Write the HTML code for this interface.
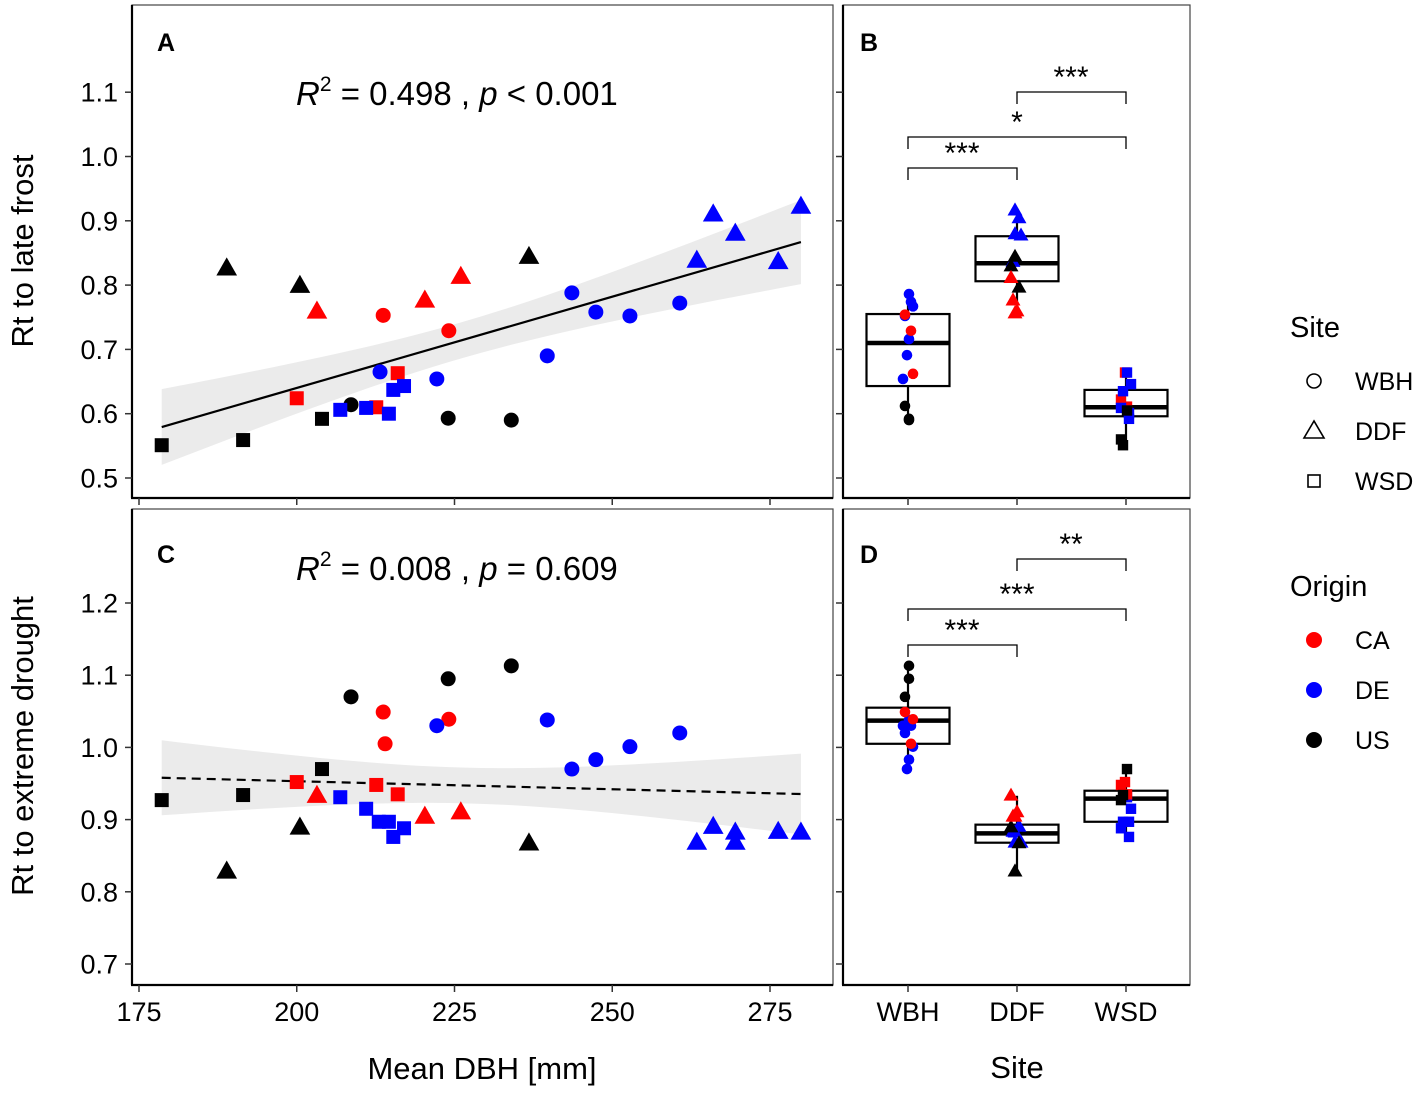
<!DOCTYPE html>
<html><head><meta charset="utf-8"><style>
body{margin:0;background:#fff;}
svg text{font-family:"Liberation Sans",Arial,sans-serif;}
</style></head><body>
<svg id="s" width="1417" height="1091" viewBox="0 0 1417 1091" xmlns="http://www.w3.org/2000/svg"></svg>
<script>
// ---- Panel A data (Rt to late frost vs DBH) ----
const aBlackSqX=[178.6,191.5,204.0], aBlackSqY=[0.551,0.559,0.592];
const aBlackTriX=[188.9,200.5,236.8], aBlackTriY=[0.827,0.800,0.845];
const aBlackCirX=[208.6,224.0,234.0], aBlackCirY=[0.614,0.593,0.590];
const aRedSqX=[200.0,212.6,216.0], aRedSqY=[0.624,0.610,0.663];
const aRedTriX=[203.2,220.3,226.0], aRedTriY=[0.760,0.777,0.814];
const aRedCirX=[213.7,224.1], aRedCirY=[0.753,0.729];
const aBlueSqX=[206.9,211.0,214.6,215.3,217.0], aBlueSqY=[0.606,0.609,0.600,0.637,0.643];
const aBlueCirX=[213.2,222.2,239.7,243.6,247.4,252.8,260.7], aBlueCirY=[0.665,0.654,0.690,0.788,0.758,0.752,0.772];
const aBlueTriX=[263.4,266.0,269.5,276.3,279.9], aBlueTriY=[0.839,0.911,0.881,0.837,0.923];
// ---- Panel C data (Rt to extreme drought vs DBH) ----
const cBlackSqX=[178.6,191.5,204.0], cBlackSqY=[0.927,0.934,0.970];
const cBlackTriX=[188.9,200.5,236.8], cBlackTriY=[0.829,0.890,0.868];
const cBlackCirX=[208.6,224.0,234.0], cBlackCirY=[1.070,1.095,1.113];
const cRedSqX=[200.0,212.6,216.0], cRedSqY=[0.952,0.948,0.935];
const cRedTriX=[203.2,220.3,226.0], cRedTriY=[0.934,0.905,0.911];
const cRedCirX=[213.7,214.0,224.1], cRedCirY=[1.049,1.005,1.039];
const cBlueSqX=[206.9,211.0,213.0,214.6,215.3,217.0], cBlueSqY=[0.931,0.915,0.897,0.897,0.876,0.888];
const cBlueCirX=[222.2,239.7,243.6,247.4,252.8,260.7], cBlueCirY=[1.030,1.038,0.970,0.983,1.001,1.020];
const cBlueTriX=[263.4,266.0,269.5,269.5,276.3,279.9], cBlueTriY=[0.869,0.891,0.883,0.869,0.884,0.883];
// ---- Box data: [lowerWhisker,q1,median,q3,upperWhisker] ----
const sites=["WBH","DDF","WSD"];
const bBoxes=[[0.590,0.643,0.710,0.755,0.789],[0.760,0.806,0.834,0.876,0.918],[0.551,0.596,0.610,0.637,0.665]];
const dBoxes=[[0.969,1.005,1.037,1.055,1.113],[0.830,0.868,0.881,0.893,0.933],[0.875,0.897,0.929,0.940,0.970]];
// jitter points: site index, value, color
const bPtsSite=[0,0,0,0,0,0,0,0,0,0,0,0,0, 1,1,1,1,1,1,1,1,1,1,1,1, 2,2,2,2,2,2,2,2,2,2,2,2];
const bPtsVal=[0.786,0.774,0.752,0.767,0.716,0.691,0.654,0.754,0.729,0.662,0.612,0.592,0.590, 0.917,0.905,0.880,0.878,0.837,0.845,0.830,0.797,0.812,0.777,0.760,0.757, 0.664,0.664,0.622,0.611,0.646,0.635,0.601,0.592,0.609,0.560,0.551,0.605];
const bPtsCol=["b","b","b","b","b","b","b","r","r","r","k","k","k", "b","b","b","b","b","k","k","k","r","r","r","r", "r","b","r","r","b","b","b","b","b","k","k","k"];
const dPtsSite=bPtsSite;
const dPtsVal=[1.038,1.030,1.020,1.001,0.983,0.970,1.030,1.049,1.005,1.039,1.070,1.095,1.113, 0.869,0.891,0.883,0.869,0.884,0.829,0.890,0.868,0.934,0.905,0.911,0.905, 0.952,0.931,0.948,0.935,0.915,0.897,0.897,0.876,0.888,0.927,0.934,0.970];
const dPtsCol=bPtsCol;
const jitter=[1,3,-3,5,1,-1,-5,-3,3,5,-3,1,1, -2,2,-2,4,-4,-2,-6,2,-6,-4,0,-2, -1,1,-5,1,5,-3,3,3,-5,-5,-3,1];

const S=document.getElementById('s');
const NS="http://www.w3.org/2000/svg";
function el(tag,attrs,parent){const e=document.createElementNS(NS,tag);for(const k in attrs)e.setAttribute(k,attrs[k]);(parent||S).appendChild(e);return e;}
const COL={r:"#ff0000",b:"#0000ff",k:"#000000"};
const xA=v=>139+(v-175)*6.31;
const yA=v=>478-(v-0.5)*643;
const yC=v=>964-(v-0.7)*722;
const xS=i=>908+i*109;

function marker(shape,cx,cy,col,sz,g,name){
  let e;
  if(shape==="c"){e=el('circle',{cx:cx,cy:cy,r:sz,fill:col},g);}
  else if(shape==="s"){e=el('rect',{x:cx-sz,y:cy-sz,width:2*sz,height:2*sz,fill:col},g);}
  else {const h=sz*1.15;e=el('polygon',{points:`${cx},${cy-h} ${cx-sz*1.15},${cy+h*0.75} ${cx+sz*1.15},${cy+h*0.75}`,fill:col},g);}
  
  
  return e;
}
function panelFrame(x,y,w,h,name){
  const r=el('rect',{x:x,y:y,width:w,height:h,fill:"none",stroke:"#444","stroke-width":1.2});
  
  
}
function text(x,y,s,size,anchor,name,extra){
  const t=el('text',Object.assign({x:x,y:y,"font-size":size,"text-anchor":anchor||"start",fill:"#000"},extra||{}));
  t.textContent=s;
  
  
  return t;
}
panelFrame(132,5,701,493,'panel-a-frame');
panelFrame(843,5,347,493,'panel-b-frame');
panelFrame(132,509,701,476,'panel-c-frame');
panelFrame(843,509,347,476,'panel-d-frame');
[[132,5,132,498],[131,498,833,498],[843,5,843,498],[842,498,1190,498],[132,509,132,985],[131,985,833,985],[843,509,843,985],[842,985,1190,985]].forEach((l,i)=>{
  const e=el('line',{x1:l[0],y1:l[1],x2:l[2],y2:l[3],stroke:"#000","stroke-width":2.2});
  
  
});
const TF=27;
const aTicks=[0.5,0.6,0.7,0.8,0.9,1.0,1.1];
aTicks.forEach(v=>{const y=yA(v);el('line',{x1:125,y1:y,x2:132,y2:y,stroke:"#333","stroke-width":1.5});text(118,y+9.5,v.toFixed(1),TF,"end","y-tick-label-a");});
const cTicks=[0.7,0.8,0.9,1.0,1.1,1.2];
cTicks.forEach(v=>{const y=yC(v);el('line',{x1:125,y1:y,x2:132,y2:y,stroke:"#333","stroke-width":1.5});text(118,y+9.5,v.toFixed(1),TF,"end","y-tick-label-c");});
const xTicks=[175,200,225,250,275];
xTicks.forEach(v=>{const x=xA(v);el('line',{x1:x,y1:985,x2:x,y2:992,stroke:"#333","stroke-width":1.5});el('line',{x1:x,y1:498,x2:x,y2:505,stroke:"#333","stroke-width":1.5});text(x,1021,String(v),TF,"middle","x-tick-label");});
sites.forEach((s,i)=>{const x=xS(i);el('line',{x1:x,y1:985,x2:x,y2:992,stroke:"#333","stroke-width":1.5});el('line',{x1:x,y1:498,x2:x,y2:505,stroke:"#333","stroke-width":1.5});text(x,1021,s,TF,"middle","site-tick-label");});
aTicks.forEach(v=>{const y=yA(v);el('line',{x1:836,y1:y,x2:843,y2:y,stroke:"#333","stroke-width":1.5});});
cTicks.forEach(v=>{const y=yC(v);el('line',{x1:836,y1:y,x2:843,y2:y,stroke:"#333","stroke-width":1.5});});

function regress(xs,ys){const n=xs.length;const mx=xs.reduce((a,b)=>a+b)/n,my=ys.reduce((a,b)=>a+b)/n;let sxx=0,sxy=0;xs.forEach((x,i)=>{sxx+=(x-mx)**2;sxy+=(x-mx)*(ys[i]-my);});const b=sxy/sxx,a=my-b*mx;let sse=0;xs.forEach((x,i)=>{sse+=(ys[i]-a-b*x)**2;});const s=Math.sqrt(sse/(n-2));return {a,b,mx,sxx,s,n};}
function drawFit(xs,ys,ysc,dashed,name){
  const r=regress(xs,ys);const x0=Math.min(...xs),x1=Math.max(...xs);const t=2.03;
  let up=[],lo=[];
  for(let k=0;k<=40;k++){const x=x0+(x1-x0)*k/40;const f=r.a+r.b*x;const se=r.s*Math.sqrt(1/r.n+(x-r.mx)**2/r.sxx);up.push([xA(x),ysc(f+t*se)]);lo.push([xA(x),ysc(f-t*se)]);}
  const band=el('polygon',{points:up.concat(lo.reverse()).map(p=>p.join(',')).join(' '),fill:"#ebebeb"});
  
  
  const ln=el('line',{x1:xA(x0),y1:ysc(r.a+r.b*x0),x2:xA(x1),y2:ysc(r.a+r.b*x1),stroke:"#000","stroke-width":2.2,"stroke-dasharray":dashed?"9,6":"none"});
  
  
}
const allAX=[].concat(aBlackSqX,aBlackTriX,aBlackCirX,aRedSqX,aRedTriX,aRedCirX,aBlueSqX,aBlueCirX,aBlueTriX);
const allAY=[].concat(aBlackSqY,aBlackTriY,aBlackCirY,aRedSqY,aRedTriY,aRedCirY,aBlueSqY,aBlueCirY,aBlueTriY);
const allCX=[].concat(cBlackSqX,cBlackTriX,cBlackCirX,cRedSqX,cRedTriX,cRedCirX,cBlueSqX,cBlueCirX,cBlueTriX);
const allCY=[].concat(cBlackSqY,cBlackTriY,cBlackCirY,cRedSqY,cRedTriY,cRedCirY,cBlueSqY,cBlueCirY,cBlueTriY);
drawFit(allAX,allAY,yA,false,'regression-a');
drawFit(allCX,allCY,yC,true,'regression-c');

function scatter(xs,ys,ysc,shape,col,name){const g=el('g',{});xs.forEach((x,i)=>marker(shape,xA(x),ysc(ys[i]),col,shape==="c"?7.5:(shape==="s"?7:9),g,name+'-point'));}
scatter(aBlackSqX,aBlackSqY,yA,"s",COL.k,'a-us-wsd');scatter(aBlackTriX,aBlackTriY,yA,"t",COL.k,'a-us-ddf');scatter(aBlackCirX,aBlackCirY,yA,"c",COL.k,'a-us-wbh');
scatter(aRedSqX,aRedSqY,yA,"s",COL.r,'a-ca-wsd');scatter(aRedTriX,aRedTriY,yA,"t",COL.r,'a-ca-ddf');scatter(aRedCirX,aRedCirY,yA,"c",COL.r,'a-ca-wbh');
scatter(aBlueSqX,aBlueSqY,yA,"s",COL.b,'a-de-wsd');scatter(aBlueCirX,aBlueCirY,yA,"c",COL.b,'a-de-wbh');scatter(aBlueTriX,aBlueTriY,yA,"t",COL.b,'a-de-ddf');
scatter(cBlackSqX,cBlackSqY,yC,"s",COL.k,'c-us-wsd');scatter(cBlackTriX,cBlackTriY,yC,"t",COL.k,'c-us-ddf');scatter(cBlackCirX,cBlackCirY,yC,"c",COL.k,'c-us-wbh');
scatter(cRedSqX,cRedSqY,yC,"s",COL.r,'c-ca-wsd');scatter(cRedTriX,cRedTriY,yC,"t",COL.r,'c-ca-ddf');scatter(cRedCirX,cRedCirY,yC,"c",COL.r,'c-ca-wbh');
scatter(cBlueSqX,cBlueSqY,yC,"s",COL.b,'c-de-wsd');scatter(cBlueCirX,cBlueCirY,yC,"c",COL.b,'c-de-wbh');scatter(cBlueTriX,cBlueTriY,yC,"t",COL.b,'c-de-ddf');

function boxes(data,ysc,name){data.forEach((b,i)=>{const x=xS(i);const g=el('g',{});
  el('line',{x1:x,y1:ysc(b[0]),x2:x,y2:ysc(b[1]),stroke:"#000","stroke-width":2.2},g);
  el('line',{x1:x,y1:ysc(b[3]),x2:x,y2:ysc(b[4]),stroke:"#000","stroke-width":2.2},g);
  el('rect',{x:x-41.5,y:ysc(b[3]),width:83,height:ysc(b[1])-ysc(b[3]),fill:"#fff",stroke:"#000","stroke-width":2.2},g);
  el('line',{x1:x-41.5,y1:ysc(b[2]),x2:x+41.5,y2:ysc(b[2]),stroke:"#000","stroke-width":4.5},g);});}
boxes(bBoxes,yA,'box-b');boxes(dBoxes,yC,'box-d');
function jpts(site,vals,cols,ysc,name){const shp=["c","t","s"];site.forEach((s,i)=>marker(shp[s],xS(s)+jitter[i],ysc(vals[i]),COL[cols[i]],shp[s]==="c"?5.3:(shp[s]==="s"?5.2:6.5),S,name));}
jpts(bPtsSite,bPtsVal,bPtsCol,yA,'b-jitter-point');jpts(dPtsSite,dPtsVal,dPtsCol,yC,'d-jitter-point');

function bracket(i,j,y,label,lx,ly,name){const g=el('g',{});
  el('polyline',{points:`${xS(i)},${y+12} ${xS(i)},${y} ${xS(j)},${y} ${xS(j)},${y+12}`,fill:"none",stroke:"#000","stroke-width":1.3},g);
  const t=el('text',{x:lx,y:ly,"font-size":30,"text-anchor":"middle"},g);t.textContent=label;}
bracket(0,1,168,"***",962,163,'sig-b-wbh-ddf');bracket(0,2,137,"*",1017,132,'sig-b-wbh-wsd');bracket(1,2,92,"***",1071,87,'sig-b-ddf-wsd');
bracket(0,1,645,"***",962,640,'sig-d-wbh-ddf');bracket(0,2,609,"***",1017,604,'sig-d-wbh-wsd');bracket(1,2,559,"**",1071,554,'sig-d-ddf-wsd');

text(157,51,"A",25,"start","panel-label-a",{"font-weight":"bold"});
text(860,51,"B",25,"start","panel-label-b",{"font-weight":"bold"});
text(157,563,"C",25,"start","panel-label-c",{"font-weight":"bold"});
text(860,563,"D",25,"start","panel-label-d",{"font-weight":"bold"});
const st1=el('text',{x:296,y:105,"font-size":33});
st1.innerHTML='<tspan font-style="italic">R</tspan><tspan font-size="21" dy="-14">2</tspan><tspan dy="14"> = 0.498 , </tspan><tspan font-style="italic">p</tspan><tspan> &lt; 0.001</tspan>';
const st2=el('text',{x:296,y:580,"font-size":33});
st2.innerHTML='<tspan font-style="italic">R</tspan><tspan font-size="21" dy="-14">2</tspan><tspan dy="14"> = 0.008 , </tspan><tspan font-style="italic">p</tspan><tspan> = 0.609</tspan>';
text(482,1079,"Mean DBH [mm]",31,"middle","x-axis-title");
text(1017,1078,"Site",31,"middle","x-axis-title-site");
text(0,0,"Rt to late frost",31,"middle","y-axis-title-a",{transform:"translate(33,251) rotate(-90)"});
text(0,0,"Rt to extreme drought",31,"middle","y-axis-title-c",{transform:"translate(33,746) rotate(-90)"});
text(1290,337,"Site",29,"start","legend-title-site");
const lg1=el('g',{});
el('circle',{cx:1314,cy:381,r:7,fill:"none",stroke:"#000","stroke-width":1.6},lg1);
el('polygon',{points:"1314,421 1304,438 1324,438",fill:"none",stroke:"#000","stroke-width":1.6},lg1);
el('rect',{x:1308,y:475,width:12,height:12,fill:"none",stroke:"#000","stroke-width":1.6},lg1);
text(1355,390,"WBH",25,"start","legend-entry-wbh");text(1355,440,"DDF",25,"start","legend-entry-ddf");text(1355,490,"WSD",25,"start","legend-entry-wsd");
text(1290,596,"Origin",29,"start","legend-title-origin");
const lg2=el('g',{});
el('circle',{cx:1314,cy:640,r:8,fill:COL.r},lg2);el('circle',{cx:1314,cy:690,r:8,fill:COL.b},lg2);el('circle',{cx:1314,cy:740,r:8,fill:COL.k},lg2);
text(1355,649,"CA",25,"start","legend-entry-ca");text(1355,699,"DE",25,"start","legend-entry-de");text(1355,749,"US",25,"start","legend-entry-us");
</script>
</body></html>
